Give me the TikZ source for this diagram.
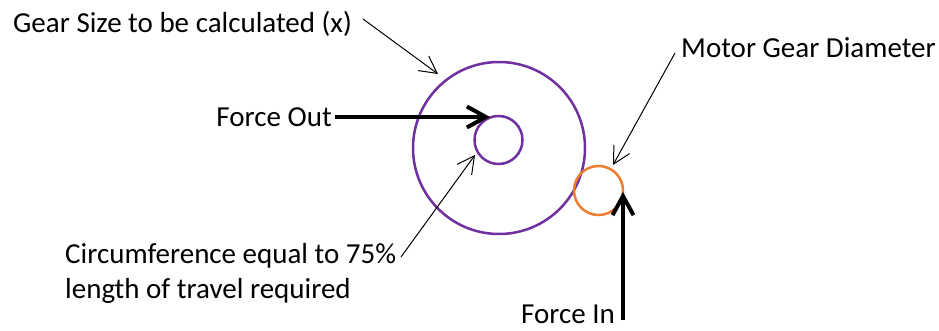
\documentclass[tikz,border=0pt]{standalone}
\usepackage{fontspec}
\setmainfont{Carlito}
\usetikzlibrary{arrows.meta}
\definecolor{gearpurple}{HTML}{7030A0}
\definecolor{gearorange}{HTML}{ED7D31}
\tikzset{
  lbl/.style={inner sep=0pt, font=\fontsize{29}{35}\selectfont},
  gear/.style={draw=gearpurple, line width=2.5pt, circle, inner sep=0pt},
  motor/.style={draw=gearorange, line width=2.5pt, circle, inner sep=0pt},
  pointer/.style={draw=black, line width=1pt, -{Straight Barb[length=17pt,width=18pt]}},
  force/.style={draw=black, line width=4pt, -{Straight Barb[length=19pt,width=21pt]}},
}
\begin{document}
\begin{tikzpicture}[x=1pt,y=-1pt]
\useasboundingbox (0,0) rectangle (939,331);
% gears
\node[gear, minimum size=172pt] (big) at (499,148) {};
\node[gear, minimum size=48pt] (small) at (498.5,140) {};
\node[motor, minimum size=49pt] (mot) at (598.5,190.5) {};
% labels
\node[lbl, anchor=base west] (gs) at (13,33) {Gear Size to be calculated (x)};
\node[lbl, anchor=base west] (md) at (681,58) {Motor Gear Diameter};
\node[lbl, anchor=base east] (fo) at (332,127) {Force Out};
\node[lbl, anchor=base west] (fi) at (521,323) {Force In};
\node[lbl, anchor=base west, align=left] (ci) at (65,298) {Circumference equal to 75\%\\length of travel required};
% connector ends
\coordinate (gsA) at (363,19);
\coordinate (gsB) at (438,74);
\coordinate (mdA) at (675,53);
\coordinate (mdB) at (613,165);
\coordinate (ciA) at (401,257);
\coordinate (ciB) at (475,155);
\coordinate (foA) at (335,117);
\coordinate (foB) at (490,117);
\coordinate (fiA) at (623,320);
\coordinate (fiB) at (623,192);
% connectors
\draw[pointer] (gsA) -- (gsB);
\draw[pointer] (mdA) -- (mdB);
\draw[pointer] (ciA) -- (ciB);
\draw[force] (foA) -- (foB);
\draw[force] (fiA) -- (fiB);
\end{tikzpicture}
\end{document}
